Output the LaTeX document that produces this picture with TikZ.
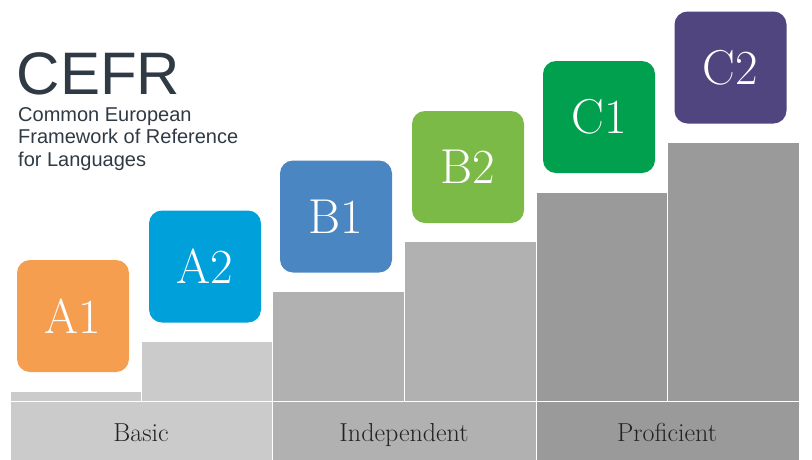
\documentclass[tikz,border=0pt]{standalone}
\usepackage{fontspec}
\newfontfamily\headfont{Liberation Sans}
\definecolor{gA}{HTML}{CBCBCB}
\definecolor{gB}{HTML}{B1B1B1}
\definecolor{gC}{HTML}{9A9A9A}
\definecolor{cAone}{HTML}{F69E50}
\definecolor{cAtwo}{HTML}{00A0DB}
\definecolor{cBone}{HTML}{4A86C1}
\definecolor{cBtwo}{HTML}{7BBA47}
\definecolor{cCone}{HTML}{00A04F}
\definecolor{cCtwo}{HTML}{50457E}
\definecolor{titlecol}{HTML}{2F3A44}
\definecolor{footcol}{HTML}{222222}
\tikzset{
  x=1pt, y=-1pt,
  bar/.style={draw=white, line width=1pt},
  levelbox/.style={rounded corners=13pt, minimum width=112pt, minimum height=112pt,
    inner sep=0pt, text=white, font=\fontsize{49}{49}\selectfont},
  footlabel/.style={anchor=base, inner sep=0pt, text=footcol, font=\fontsize{26}{26}\selectfont},
  subtitle/.style={anchor=base west, inner sep=0pt, text=titlecol, font=\headfont\fontsize{20}{22}\selectfont}
}
\begin{document}
\begin{tikzpicture}
\useasboundingbox (0,0) rectangle (812,459);
\begin{scope}
\clip (0,0) rectangle (812,459);
% bars
\draw[bar, fill=gA] (10,391) rectangle (141,401);
\draw[bar, fill=gA] (141,341) rectangle (272,401);
\draw[bar, fill=gB] (272,291) rectangle (404,401);
\draw[bar, fill=gB] (404,241) rectangle (536,401);
\draw[bar, fill=gC] (536,192) rectangle (667,401);
\draw[bar, fill=gC] (667,142) rectangle (799,401);
% footer bands
\draw[bar, fill=gA] (10,401) rectangle (272,470);
\draw[bar, fill=gB] (272,401) rectangle (536,470);
\draw[bar, fill=gC] (536,401) rectangle (799,470);
\end{scope}
% footer labels
\node[footlabel] (basic) at (141,441) {Basic};
\node[footlabel] (indep) at (404,441) {Independent};
\node[footlabel] (prof) at (667,441) {Proficient};
% level boxes
\node[levelbox, fill=cAone] (a1) at (73,316) {A1};
\node[levelbox, fill=cAtwo] (a2) at (205,266.5) {A2};
\node[levelbox, fill=cBone] (b1) at (336,216.5) {B1};
\node[levelbox, fill=cBtwo] (b2) at (468,167) {B2};
\node[levelbox, fill=cCone] (c1) at (599,117) {C1};
\node[levelbox, fill=cCtwo] (c2) at (730.5,67.5) {C2};
% title
\node[anchor=base west, inner sep=0pt, text=titlecol, font=\headfont\fontsize{60}{60}\selectfont] (cefr) at (16.5,94) {CEFR};
\node[subtitle] (l1) at (18,121) {Common European};
\node[subtitle] (l2) at (18,143.5) {Framework of Reference};
\node[subtitle] (l3) at (18,166) {for Languages};
\end{tikzpicture}
\end{document}
